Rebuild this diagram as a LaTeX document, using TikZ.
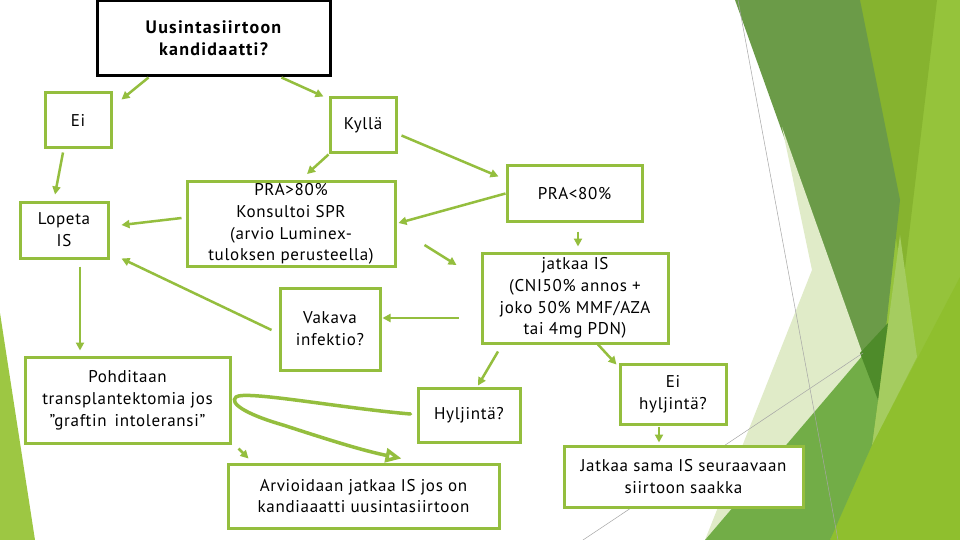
\documentclass[tikz,border=0pt]{standalone}
\usepackage{fontspec}
\setmainfont{PT Sans}[LetterSpace=4]
\usetikzlibrary{arrows.meta,calc}
\definecolor{grn}{HTML}{94BE3E}
\definecolor{bgpale}{HTML}{E0EBC8}
\definecolor{bgdark}{HTML}{6B9B48}
\definecolor{bgyel}{HTML}{86B32F}
\definecolor{bgbright}{HTML}{95C33B}
\definecolor{bgbright2}{HTML}{8FBF2E}
\definecolor{bgmid}{HTML}{72AD47}
\definecolor{bgdeep}{HTML}{4E8B2A}
\definecolor{bglight}{HTML}{A5CC60}
\definecolor{bgleft}{HTML}{9DC743}
\begin{document}
\begin{tikzpicture}[x=1pt,y=-1pt,
  gbox/.style={draw=grn, line width=3pt, fill=white, align=center, inner sep=0pt,
    font=\fontsize{17}{21.8}\selectfont},
  topbox/.style={draw=black, line width=3pt, fill=white, align=center, inner sep=0pt,
    font=\addfontfeatures{LetterSpace=7}\bfseries\fontsize{18}{22}\selectfont},
  arr/.style={draw=grn, line width=2.5pt, -{Triangle[length=8pt,width=8pt]}},
  bigarr/.style={draw=grn, line width=3.5pt, line cap=round, -{Triangle[length=16pt,width=14pt,fill=white]}},
  thin/.style={draw=black!35, line width=0.5pt}]
\useasboundingbox (0,0) rectangle (960,540);
\fill[white] (0,0) rectangle (960,540);
% background decoration
\fill[bgleft] (0,313) -- (35,540) -- (0,540) -- cycle;
\fill[bgbright] (860,0) -- (960,0) -- (960,540) -- (830,540) -- (878,400) -- cycle;
\fill[bgbright2] (872,445) -- (960,277) -- (960,540) -- (830,540) -- cycle;
\fill[bgyel] (860,0) -- (937,0) -- (903,285) -- cycle;
\fill[bglight] (900,235) -- (917,357) -- (872,445) -- (878,400) -- cycle;
\fill[bgdark] (735,0) -- (860,0) -- (900,200) -- (878,400) -- cycle;
\fill[bgpale] (782,127) -- (812,270) -- (705,540) -- (863,355) -- cycle;
\fill[bgmid] (705,540) -- (863,355) -- (878,400) -- (872,445) -- (830,540) -- cycle;
\fill[bgdeep] (860,353) -- (888,323) -- (878,400) -- cycle;
\draw[thin] (738,0) -- (838,540);
\draw[thin] (583,540) -- (863,353);
% nodes
\node[topbox, minimum width=233pt, minimum height=75pt] (top) at (213.5,38.5) {Uusintasiirtoon\\kandidaatti?};
\node[gbox, minimum width=66pt, minimum height=55pt] (ei) at (78,120.5) {Ei};
\node[gbox, minimum width=66pt, minimum height=55pt] (kylla) at (363,125.5) {Kyllä};
\node[gbox, minimum width=88pt, minimum height=56pt] (lopeta) at (64,230) {Lopeta\\IS};
\node[gbox, minimum width=208pt, minimum height=85pt] (pra80) at (291,224) {PRA>80\%\\Konsultoi SPR\\(arvio Luminex-\\tuloksen perusteella)};
\node[gbox, minimum width=135pt, minimum height=55pt] (praless) at (574.5,193.5) {PRA<80\%};
\node[gbox, minimum width=186pt, minimum height=90pt] (jatkaa) at (575,298) {jatkaa IS\\(CNI50\% annos +\\joko 50\% MMF/AZA\\tai 4mg PDN)};
\node[gbox, minimum width=100pt, minimum height=82pt] (vakava) at (330,329) {Vakava\\infektio?};
\node[gbox, minimum width=205pt, minimum height=86pt] (pohd) at (127.5,400) {Pohditaan\\transplantektomia jos\\”graftin\, intoleransi”};
\node[gbox, minimum width=102pt, minimum height=54pt] (hyl) at (469,415) {Hyljintä?};
\node[gbox, minimum width=106pt, minimum height=60pt] (eihyl) at (673,394) {Ei\\hyljintä?};
\node[gbox, minimum width=271pt, minimum height=64pt] (arvio) at (363.5,496) {Arvioidaan jatkaa IS jos on\\kandiaaatti uusintasiirtoon};
\node[gbox, minimum width=239pt, minimum height=61pt] (jsama) at (683.5,476.5) {Jatkaa sama IS seuraavaan\\siirtoon saakka};
% free ends of the two loose arrows
\coordinate (f1a) at ($(pra80.south east)+(28,-23)$);
\coordinate (f1b) at ($(jatkaa.west)+(-24,-33)$);
\coordinate (f2a) at ($(pohd.south east)+(7,4)$);
\coordinate (f2b) at ($(arvio.north west)+(22,-4)$);
% connectors
\draw[arr] ($(top.south)+(-65,0)$) -- ($(ei.north east)+(9,8)$);
\draw[arr] ($(top.south)+(68,0)$) -- ($(kylla.north west)+(-5,0)$);
\draw[arr] ($(ei.south)+(-15,3)$) -- ($(lopeta.north)+(-9,-6)$);
\draw[arr] (kylla.south west) -- ($(pra80.north)+(16,-6)$);
\draw[arr] ($(kylla.east)+(4,10)$) -- ($(praless.west)+(-7,-17)$);
\draw[arr] (praless.west) -- ($(pra80.east)+(2,-1)$);
\draw[arr] ($(pra80.west)+(-4,-6)$) -- ($(lopeta.east)+(12,-5)$);
\draw[arr] (f1a) -- (f1b);
\draw[arr] ($(praless.south)+(3.5,9)$) -- ($(jatkaa.north)+(3,-5)$);
\draw[arr] ($(vakava.west)+(-7,1)$) -- ($(lopeta.south east)+(12,-1)$);
\draw[arr] ($(jatkaa.west)+(-22,20)$) -- ($(vakava.east)+(1,-11)$);
\draw[arr] ($(lopeta.south)+(16,7)$) -- ($(pohd.north)+(-47.5,-5)$);
\draw[arr] ($(jatkaa.south)+(-77,7)$) -- ($(hyl.north)+(9,-1)$);
\draw[arr] ($(jatkaa.south)+(23,0)$) -- ($(eihyl.north west)+(-2,2)$);
\draw[arr] ($(eihyl.south)+(-14,1)$) -- ($(jsama.north)+(-24.5,-2)$);
\draw[arr] (f2a) -- (f2b);
\draw[bigarr] ($(hyl.west)+(-6,-1)$) .. controls (340,408) and (245,390) .. (236,397)
  .. controls (229,403) and (245,414) .. (283,425)
  .. controls (320,437) and (360,450) .. ($(arvio.north)+(38,-4)$);
\end{tikzpicture}
\end{document}
